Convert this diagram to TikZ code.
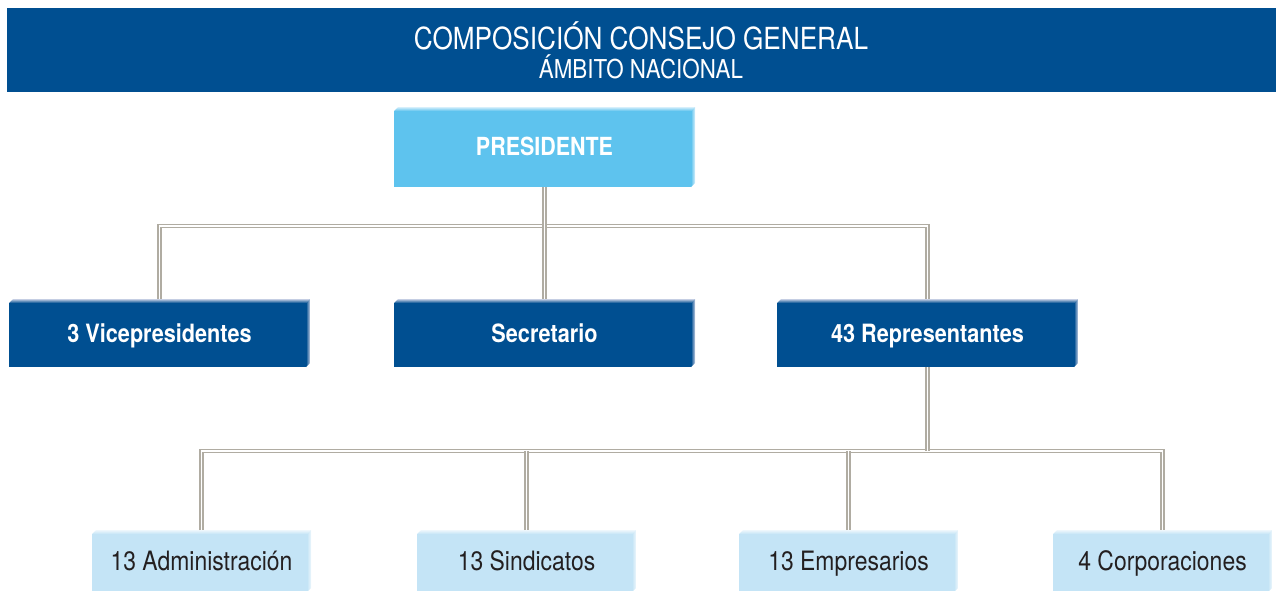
\documentclass[tikz,border=0pt]{standalone}
\usepackage{fontspec}
\setmainfont{TeX Gyre Heros}[FakeStretch=0.86]
\definecolor{hdrblue}{HTML}{004F91}
\definecolor{hdredge}{HTML}{C5CEE3}
\definecolor{presblue}{HTML}{5EC3EE}
\definecolor{presedge}{HTML}{D6EFFB}
\definecolor{paleblue}{HTML}{C4E4F6}
\definecolor{paleedge}{HTML}{EEF7FC}
\definecolor{linegrey}{HTML}{B0ACA2}
\definecolor{txtdark}{HTML}{231F20}
\tikzset{
  orgbox/.style 2 args={rectangle, inner sep=0pt, outer sep=0pt, anchor=north west,
    text depth=0pt,
    path picture={
      \fill[#1] ([yshift=-3pt]path picture bounding box.north west) rectangle ([xshift=-3pt]path picture bounding box.south east);
      \shade[top color=#2, bottom color=#1]
        ([yshift=-3pt]path picture bounding box.north west) --
        ([xshift=3pt]path picture bounding box.north west) --
        (path picture bounding box.north east) --
        ([xshift=-3pt,yshift=-3pt]path picture bounding box.north east) -- cycle;
      \shade[left color=#1, right color=#2]
        ([xshift=-3pt,yshift=-3pt]path picture bounding box.north east) --
        (path picture bounding box.north east) --
        ([yshift=3pt]path picture bounding box.south east) --
        ([xshift=-3pt]path picture bounding box.south east) -- cycle;
    }},
  presbox/.style={orgbox={presblue}{presedge}, minimum width=225.75pt, minimum height=60pt,
    text height=13.4pt, text=white, font=\bfseries\fontsize{18.7pt}{22pt}\selectfont},
  midbox/.style={orgbox={hdrblue}{hdredge}, minimum width=225.75pt, minimum height=51pt,
    text height=13.6pt, text=white, font=\bfseries\fontsize{18.9pt}{22pt}\selectfont},
  lowbox/.style={orgbox={paleblue}{paleedge}, minimum width=164.25pt, minimum height=46.5pt,
    text height=14.3pt, text=txtdark, font=\fontsize{20pt}{24pt}\selectfont},
  conn/.style={draw=linegrey, line width=1.25pt, double=white, double distance=0.8pt},
  hdrtitle/.style={text=white, inner sep=0pt, font=\fontsize{22.8pt}{26pt}\selectfont},
  hdrsub/.style={text=white, inner sep=0pt, font=\fontsize{19.5pt}{22pt}\selectfont},
}
\begin{document}
\begin{tikzpicture}[x=0.75pt, y=-0.75pt]
\useasboundingbox (0,0) rectangle (1280,590);
\clip (0,0) rectangle (1280,590);
% header
\node[fill=hdrblue, minimum width=951.75pt, minimum height=63pt, inner sep=0pt, anchor=north west] (hdr) at (7,8) {};
\node[hdrtitle] (t1) at (641,36) {COMPOSICIÓN CONSEJO GENERAL};
\node[hdrsub] (t2) at (641,67) {ÁMBITO NACIONAL};
% boxes
\node[presbox] (pres) at (394,107) {PRESIDENTE};
\node[midbox] (vp) at (9,299) {3 Vicepresidentes};
\node[midbox] (sec) at (394,299) {Secretario};
\node[midbox] (rep) at (777,299) {43 Representantes};
\node[lowbox] (adm) at (92,530) {13 Administración};
\node[lowbox] (sind) at (417,530) {13 Sindicatos};
\node[lowbox] (emp) at (739,530) {13 Empresarios};
\node[lowbox] (corp) at (1053,530) {4 Corporaciones};
% junctions
\coordinate (j1) at (544.5,226);
\coordinate (j2) at (927.5,451);
% connectors
\draw[conn] (vp.north) |- (j1) -| (rep.north);
\draw[conn] (pres.south) -- (sec.north);
\draw[conn] (adm.north) |- (j2) -| (corp.north);
\draw[conn] (rep.south) -- (j2);
\draw[conn] (sind.north) -- (sind.north |- j2);
\draw[conn] (emp.north) -- (emp.north |- j2);
\end{tikzpicture}
\end{document}
